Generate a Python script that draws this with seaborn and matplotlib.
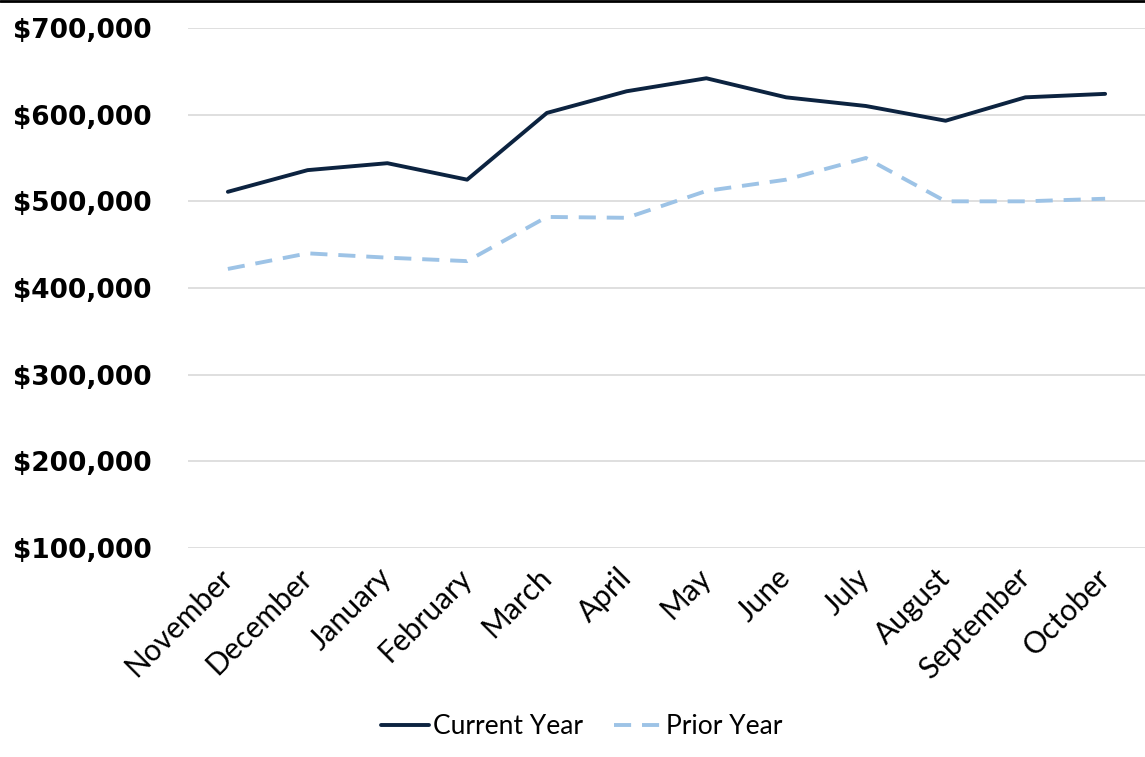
import matplotlib
matplotlib.use("Agg")
import matplotlib.pyplot as plt
import matplotlib.transforms as mtransforms
import seaborn as sns
import pandas as pd
from matplotlib.lines import Line2D
from matplotlib.ticker import FuncFormatter

months = ["November", "December", "January", "February", "March", "April",
          "May", "June", "July", "August", "September", "October"]
current_year = [511000, 536000, 544000, 525000, 602000, 627000,
                642000, 620000, 610000, 593000, 620000, 624000]
prior_year = [422000, 440000, 435000, 431000, 482000, 481000,
              512000, 525000, 550000, 500000, 500000, 503000]
y_ticks = [100000, 200000, 300000, 400000, 500000, 600000, 700000]

sns.set_theme(style="white")
plt.rcParams['font.family'] = ['Lato', 'DejaVu Sans']
plt.rcParams['text.color'] = 'black'
plt.rcParams['xtick.color'] = 'black'
plt.rcParams['ytick.color'] = 'black'

df = pd.DataFrame({
    "Month": months * 2,
    "Value": current_year + prior_year,
    "Series": ["Current Year"] * 12 + ["Prior Year"] * 12,
})

fig = plt.figure(figsize=(11.45, 7.57), dpi=100)
ax = fig.add_axes([188 / 1145, 1 - 548 / 757, 1 - 188 / 1145, (548 - 28) / 757])

colors = {"Current Year": "#0c2340", "Prior Year": "#9dc3e6"}
dash = (4.4, 2.8)
lw = 2.8
sns.lineplot(data=df, x="Month", y="Value", hue="Series", style="Series",
             palette=colors, dashes={"Current Year": "", "Prior Year": dash},
             sort=False, linewidth=lw, ax=ax, legend=False)

ax.set_xlim(-0.5, 11.5)
ax.set_ylim(100000, 700000)
ax.set_yticks(y_ticks)
ax.yaxis.set_major_formatter(FuncFormatter(lambda v, p: f"${v:,.0f}"))
ax.grid(axis="y", color="#d9d9d9", linewidth=1.2)
ax.set_axisbelow(True)
for s in ax.spines.values():
    s.set_visible(False)
ax.set_xlabel("")
ax.set_ylabel("")
ax.tick_params(axis="y", length=0, pad=26, labelsize=19)
for lab in ax.get_yticklabels():
    lab.set_fontweight("bold")
    lab.set_fontfamily(["DejaVu Sans"])
ax.tick_params(axis="x", length=0, pad=11, labelsize=21.5)
ax.set_xticks(range(len(months)))
ax.set_xticklabels(months, rotation=45, ha="right", rotation_mode="anchor",
                   color="black")
offset = mtransforms.ScaledTranslation(-10 / 100, 0, fig.dpi_scale_trans)
for lab in ax.get_xticklabels():
    lab.set_transform(lab.get_transform() + offset)

handles = [Line2D([0], [0], color=colors["Current Year"], lw=lw),
           Line2D([0], [0], color=colors["Prior Year"], lw=lw, dashes=dash)]
fig.legend(handles, ["Current Year", "Prior Year"], loc="center",
           bbox_to_anchor=(0.508, 1 - 727 / 757), ncol=2, frameon=False,
           fontsize=19, handlelength=1.8, handletextpad=0.15, columnspacing=1.2)

fig.add_artist(Line2D([0, 1], [0.999, 0.999], color="black", lw=2,
                      transform=fig.transFigure))

fig.savefig("out.png", dpi=100)
